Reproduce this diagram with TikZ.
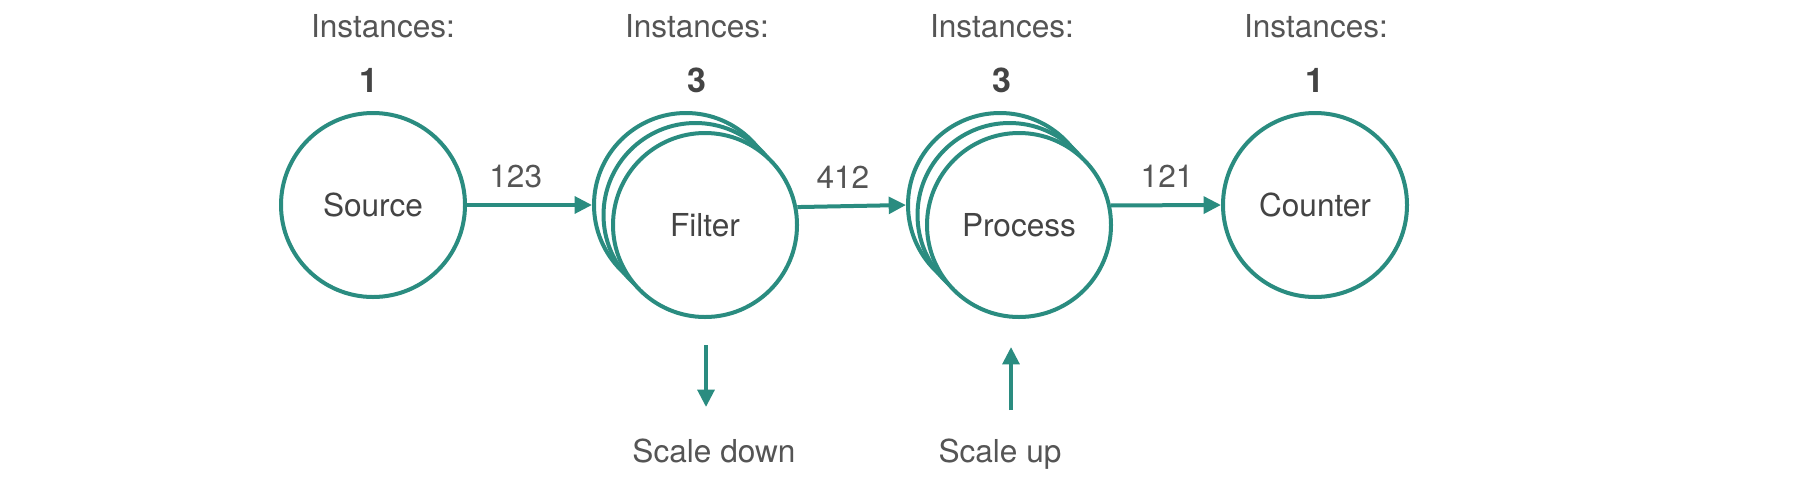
\documentclass[tikz,border=0pt]{standalone}
\usepackage{fontspec}
\setmainfont{TeX Gyre Heros}
\usetikzlibrary{arrows.meta}
\definecolor{flowteal}{RGB}{42,140,128}
\definecolor{txtgray}{RGB}{68,68,68}
\definecolor{lblgray}{RGB}{85,85,85}
\begin{document}
\begin{tikzpicture}[x=0.75pt,y=-0.75pt,
  op/.style={circle, draw=flowteal, line width=3pt, fill=white,
    minimum size=138pt, inner sep=0pt, text depth=0pt,
    font=\fontsize{23.7pt}{28pt}\selectfont, text=txtgray},
  flow/.style={draw=flowteal, line width=3pt,
    -{Triangle[length=13pt,width=12.5pt]}},
  lbl/.style={font=\fontsize{23.7pt}{28pt}\selectfont, text=lblgray,
    inner sep=0pt, anchor=base},
  cntlbl/.style={font=\fontsize{25.5pt}{30pt}\selectfont\bfseries,
    text=txtgray, inner sep=0pt, anchor=base},
  elbl/.style={lbl, yshift=13.5pt},
]
\fill[white] (0,0) rectangle (1801,486);
\useasboundingbox (0,0) rectangle (1801,486);

% top labels
\node[lbl] (i1) at (383,37) {Instances:};
\node[lbl] (i2) at (697,37) {Instances:};
\node[lbl] (i3) at (1002,37) {Instances:};
\node[lbl] (i4) at (1316,37) {Instances:};
\node[cntlbl] (n1) at (369,92) {1};
\node[cntlbl] (n2) at (697,92) {3};
\node[cntlbl] (n3) at (1002,92) {3};
\node[cntlbl] (n4) at (1315,92) {1};

% operators
\node[op] (src) at (373,205) {Source};
\node[op] (f3) at (686,205) {};
\node[op] (f2) at (695.5,215) {};
\node[op] (f1) at (705,225) {Filter};
\node[op] (p3) at (1000,205) {};
\node[op] (p2) at (1009.5,215) {};
\node[op] (p1) at (1019,225) {Process};
\node[op] (cnt) at (1315,205) {Counter};

% streams
\draw[flow] (src) -- (f3) node[elbl, pos=0.39] (l1) {123};
\draw[flow] (f1.11.2) -- (p3.west) node[elbl, pos=0.42] (l2) {412};
\draw[flow] (p1.12.5) -- (cnt.west) node[elbl, pos=0.51] (l3) {121};

% scaling
\coordinate (sdA) at (706,345);
\coordinate (sdB) at (706,407);
\draw[flow] (sdA) -- (sdB);
\node[lbl] (sd) at (714,462) {Scale down};
\coordinate (suA) at (1011,410);
\coordinate (suB) at (1011,347);
\draw[flow] (suA) -- (suB);
\node[lbl] (su) at (1000,462) {Scale up};
\end{tikzpicture}
\end{document}
